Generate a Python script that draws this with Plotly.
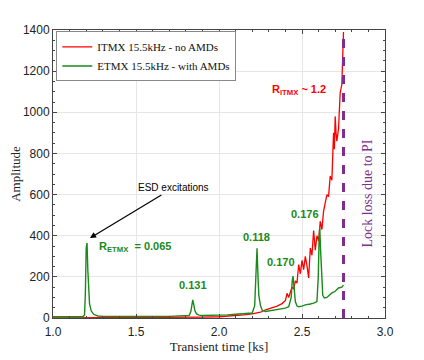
"""PI ring-up transient: ITMX without AMDs vs ETMX with AMDs (Plotly)."""

import plotly.graph_objects as go

RED = "#FF0000"
GREEN = "#1A8A1A"
PURPLE = "#7E2F8E"
SERIF = "Liberation Serif, DejaVu Serif, serif"
SANS = "Liberation Sans, Arial, sans-serif"

# ITMX 15.5kHz - no AMDs  (time in ks, amplitude)
itmx_t = [1.00, 1.20, 1.40, 1.60, 1.80, 1.90, 2.00, 2.05, 2.10, 2.15, 2.20, 2.25,
          2.28, 2.30, 2.33, 2.35, 2.38, 2.40, 2.41, 2.42, 2.43, 2.44, 2.45, 2.46,
          2.47, 2.48, 2.49, 2.50, 2.51, 2.52, 2.53, 2.54, 2.55, 2.56, 2.57, 2.58,
          2.59, 2.60, 2.61, 2.62, 2.63, 2.64, 2.65, 2.66, 2.67, 2.68, 2.69, 2.695,
          2.70, 2.705, 2.71, 2.72, 2.73, 2.74, 2.745, 2.75]
itmx_amp = [1, 1, 1, 2, 3, 4, 6, 8, 11, 15, 20, 28,
            40, 45, 52, 58, 70, 85, 120, 100, 125, 150, 140, 180,
            170, 260, 215, 280, 235, 300, 255, 195, 340, 305, 425, 330,
            400, 375, 470, 430, 520, 560, 600, 590, 690, 670, 900, 820,
            980, 900, 860, 920, 1095, 1135, 1250, 1390]

# ETMX 15.5kHz - with AMDs
etmx_t = [1.00, 1.05, 1.10, 1.15, 1.18, 1.19, 1.195, 1.20, 1.205, 1.21, 1.215,
          1.22, 1.23, 1.245, 1.27, 1.30, 1.40, 1.50, 1.60, 1.70, 1.78, 1.82,
          1.83, 1.837, 1.842, 1.848, 1.855, 1.865, 1.88, 1.90, 1.95, 2.00, 2.05,
          2.10, 2.15, 2.20, 2.215, 2.222, 2.229, 2.235, 2.24, 2.25, 2.26, 2.28,
          2.30, 2.33, 2.36, 2.38, 2.40, 2.42, 2.435, 2.441, 2.446, 2.452, 2.46,
          2.47, 2.48, 2.50, 2.52, 2.55, 2.57, 2.59, 2.598, 2.603, 2.607, 2.612,
          2.618, 2.625, 2.635, 2.65, 2.68, 2.70, 2.72, 2.74, 2.75]
etmx_amp = [6, 5, 5, 5, 6, 15, 120, 340, 365, 230, 120,
            70, 35, 18, 10, 8, 7, 6, 7, 8, 10, 12,
            30, 75, 88, 65, 35, 20, 14, 12, 12, 13, 15,
            18, 20, 24, 60, 220, 339, 200, 110, 60, 38, 32,
            35, 40, 42, 45, 48, 55, 100, 180, 204, 150, 80,
            58, 55, 58, 64, 68, 72, 80, 200, 380, 440, 330,
            180, 110, 97, 100, 122, 130, 146, 150, 160]

LOCK_LOSS_T = 2.75

# peak ratio labels: (time, amplitude, text)
peak_t = [1.843, 2.223, 2.373, 2.518]
peak_amp = [160, 396, 274, 505]
peak_text = ["0.131", "0.118", "0.170", "0.176"]

fig = go.Figure()
fig.add_trace(go.Scatter(x=itmx_t, y=itmx_amp, mode="lines",
                         line=dict(color=RED, width=1.3),
                         name="ITMX 15.5kHz - no AMDs"))
fig.add_trace(go.Scatter(x=etmx_t, y=etmx_amp, mode="lines",
                         line=dict(color=GREEN, width=1.4),
                         name="ETMX 15.5kHz - with AMDs"))

fig.add_vline(x=LOCK_LOSS_T, line_dash="dash", line_color=PURPLE, line_width=3)

label_font = dict(family=SANS, size=11, color=GREEN)
for t, a, s in zip(peak_t, peak_amp, peak_text):
    fig.add_annotation(x=t, y=a, text=f"<b>{s}</b>", showarrow=False, font=label_font)

fig.add_annotation(x=1.494, y=345, text="<b>R<sub>ETMX</sub>  = 0.065</b>",
                   showarrow=False, font=label_font)
fig.add_annotation(x=2.482, y=1109, text="<b>R<sub>ITMX</sub> ~ 1.2</b>",
                   showarrow=False, font=dict(family=SANS, size=11, color=RED))
fig.add_annotation(x=1.223, y=389, text="ESD excitations", showarrow=True,
                   ax=83, ay=-50, arrowhead=2, arrowsize=1, arrowwidth=1.2,
                   arrowcolor="black", font=dict(family=SANS, size=10, color="black"))
fig.add_annotation(x=2.892, y=605, text="Lock loss due to PI", textangle=-90,
                   showarrow=False, font=dict(family=SERIF, size=14, color=PURPLE))

axis_common = dict(showline=True, linecolor="#444", linewidth=1, mirror="ticks",
                   ticks="inside", ticklen=4, tickcolor="#444", automargin=False,
                   showgrid=True, gridcolor="#E6E6E6", zeroline=False,
                   tickfont=dict(family=SANS, size=12, color="#222"))

# page body adds an 8px offset, so the figure is 8px smaller on each side
fig.update_layout(
    width=416, height=352,
    margin=dict(l=45, r=39, t=22, b=42),
    paper_bgcolor="white", plot_bgcolor="white",
    xaxis=dict(range=[1, 3], dtick=0.5, tickformat=".1f", ticklabelstandoff=3,
               minor=dict(dtick=0.1, ticks="inside", ticklen=2, tickcolor="#444"),
               title=dict(text="Transient time [ks]", standoff=0,
                          font=dict(family=SERIF, size=13, color="#222")),
               **axis_common),
    yaxis=dict(range=[0, 1400], dtick=200,
               minor=dict(dtick=50, ticks="inside", ticklen=2, tickcolor="#444"),
               title=dict(text="Amplitude", standoff=4,
                          font=dict(family=SERIF, size=13, color="#222")),
               **axis_common),
    legend=dict(x=0.01, y=0.995, xanchor="left", yanchor="top",
                bgcolor="white", bordercolor="#888", borderwidth=1,
                font=dict(family=SERIF, size=11, color="#111"),
                tracegroupgap=0, itemwidth=30),
    showlegend=True,
)

fig.write_html("out.html")
